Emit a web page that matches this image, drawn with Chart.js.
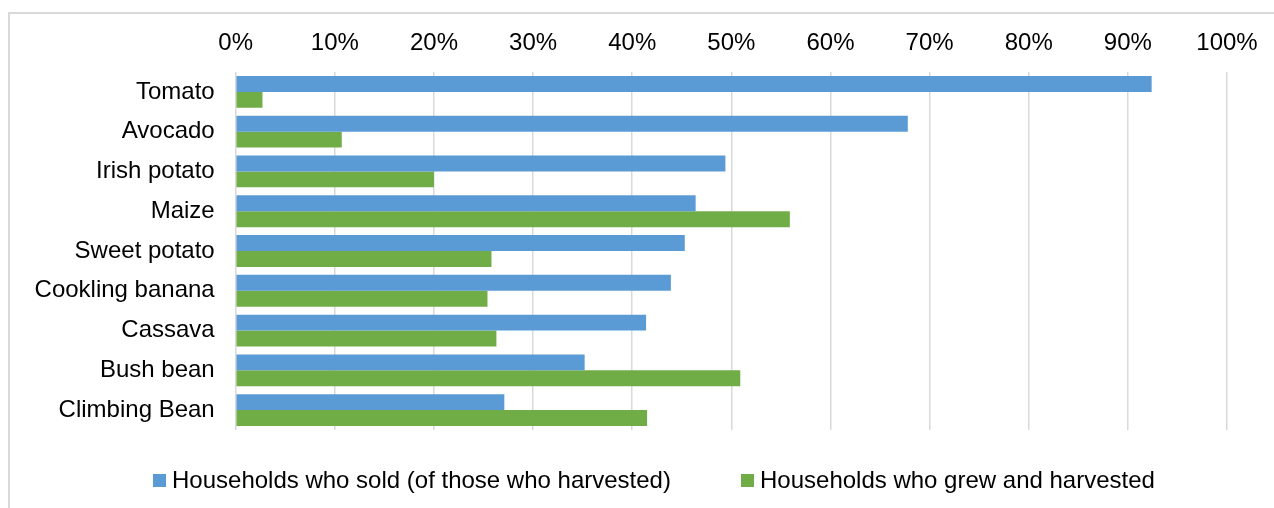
<!DOCTYPE html>
<html>
<head>
<meta charset="utf-8">
<script src="https://cdn.jsdelivr.net/npm/chart.js@4/dist/chart.umd.min.js"></script>
<style>
  html, body { margin: 0; padding: 0; background: #fff; width: 1274px; height: 508px; overflow: hidden; }
  #frame { position: absolute; left: 8px; top: 12px; width: 1300px; height: 540px; border: 2px solid #d9d9d9; box-sizing: border-box; }
  #c { position: absolute; left: 0; top: 0; }
  .lg { position: absolute; top: 466px; font-family: "Liberation Sans", Arial, sans-serif; font-size: 24px; color: #000; white-space: nowrap; line-height: 28px; }
  .lg i { display: inline-block; width: 13px; height: 13px; margin-right: 6px; vertical-align: 1px; }
</style>
</head>
<body>
<div id="frame"></div>
<canvas id="c" width="1274" height="508"></canvas>
<div id="legend"></div>
<script>
const categories = ["Tomato", "Avocado", "Irish potato", "Maize", "Sweet potato", "Cookling banana", "Cassava", "Bush bean", "Climbing Bean"];
const soldLabel = "Households who sold (of those who harvested)";
const grewLabel = "Households who grew and harvested";
const soldValues = [92.4, 67.8, 49.4, 46.4, 45.3, 43.9, 41.4, 35.2, 27.1];
const grewValues = [2.7, 10.7, 20.0, 55.9, 25.8, 25.4, 26.3, 50.9, 41.5];
const tickValues = [0, 10, 20, 30, 40, 50, 60, 70, 80, 90, 100];

const blue = "#5B9BD5";
const green = "#70AD47";
const font = { family: "'Liberation Sans', Arial, sans-serif", size: 24 };

new Chart(document.getElementById("c"), {
  type: "bar",
  data: {
    labels: categories,
    datasets: [
      { label: soldLabel, data: soldValues, backgroundColor: blue },
      { label: grewLabel, data: grewValues, backgroundColor: green }
    ]
  },
  options: {
    indexAxis: "y",
    responsive: false,
    animation: false,
    layout: { padding: { left: 0, right: 47, top: 0, bottom: 78 } },
    datasets: { bar: { categoryPercentage: 0.8, barPercentage: 1.0 } },
    plugins: { legend: { display: false }, tooltip: { enabled: false } },
    scales: {
      x: {
        position: "top",
        min: 0, max: 100,
        afterBuildTicks: (s) => { s.ticks = tickValues.map(v => ({ value: v })); },
        afterFit: (s) => { s.height = 72; },
        ticks: { font: font, color: "#000", padding: 14, callback: (v) => v + "%" },
        grid: { color: "#d9d9d9", lineWidth: 1.5, drawTicks: false },
        border: { display: false }
      },
      y: {
        afterFit: (s) => { s.width = 235.7; },
        ticks: { font: font, color: "#000", padding: 21 },
        grid: { display: false, drawTicks: false },
        border: { display: false }
      }
    }
  }
});

const legend = document.getElementById("legend");
[[soldLabel, blue, 153], [grewLabel, green, 741]].forEach(([t, c, x]) => {
  const d = document.createElement("div");
  d.className = "lg";
  d.style.left = x + "px";
  const box = document.createElement("i");
  box.style.background = c;
  d.appendChild(box);
  d.appendChild(document.createTextNode(t));
  legend.appendChild(d);
});
</script>
</body>
</html>
